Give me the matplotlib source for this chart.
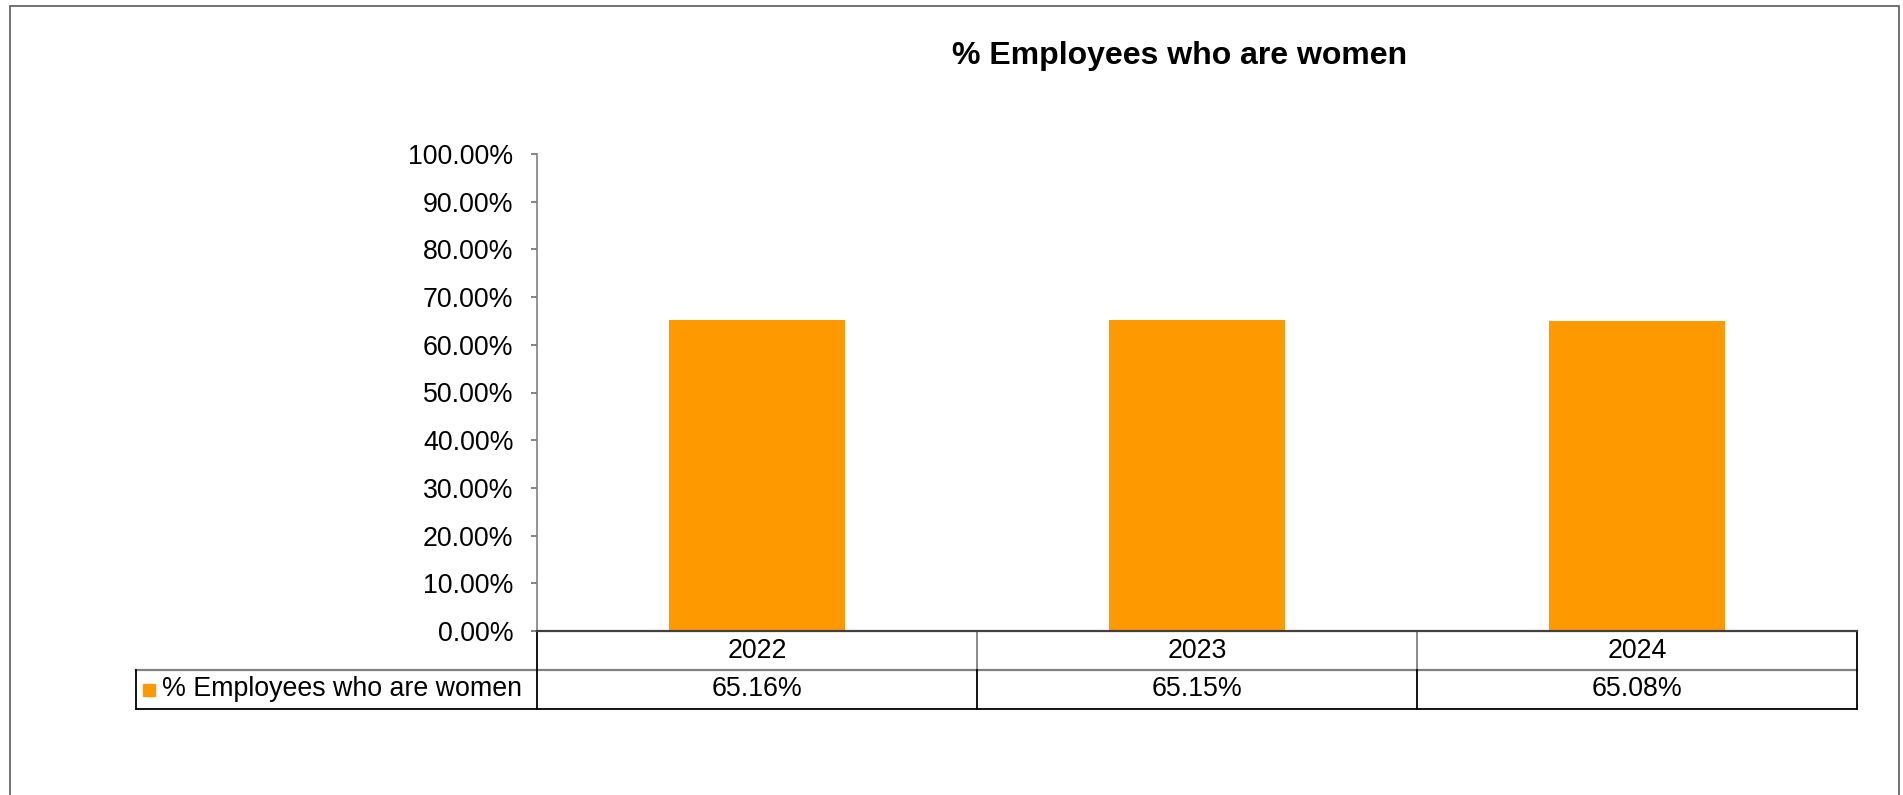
import matplotlib
matplotlib.use("Agg")
import matplotlib.pyplot as plt
from matplotlib.patches import Rectangle
from matplotlib.lines import Line2D

plt.rcParams['font.family'] = ['Liberation Sans', 'DejaVu Sans']

title = "% Employees who are women"
series_name = "% Employees who are women"
years = ["2022", "2023", "2024"]
values = [65.16, 65.15, 65.08]
y_ticks = [0, 10, 20, 30, 40, 50, 60, 70, 80, 90, 100]

FS = 19.3

W, H = 1903, 795
fig = plt.figure(figsize=(W / 100, H / 100), dpi=100)
fig.patch.set_facecolor('white')

# outer chart border
fig.add_artist(Rectangle((9.5 / W, -0.05), (1899 - 9.5) / W, 1.05 - 5.5 / H,
                         transform=fig.transFigure, fill=False,
                         edgecolor='#5a5a5a', linewidth=1.2))

ax_l, ax_r, ax_t, ax_b = 537, 1857, 154, 631
ax = fig.add_axes([ax_l / W, (H - ax_b) / H, (ax_r - ax_l) / W, (ax_b - ax_t) / H])

x = list(range(len(years)))
ax.bar(x, values, width=0.40, color='#FF9900', zorder=2)
ax.set_xlim(-0.5, len(years) - 0.5)
ax.set_ylim(0, 100)
ax.set_yticks(y_ticks)
ax.set_yticklabels([f"{v:.2f}%" for v in y_ticks], fontsize=FS)
ax.tick_params(axis='y', direction='out', length=4, width=1.2, color='#707070', pad=13)
ax.set_xticks([])
for s in ['top', 'right', 'bottom']:
    ax.spines[s].set_visible(False)
ax.spines['left'].set_color('#808080')
ax.spines['left'].set_linewidth(1.2)

ax_h = ax_b - ax_t
ax_w = ax_r - ax_l
row1 = -(670 - ax_b) / ax_h
row2 = -(709 - ax_b) / ax_h
leg_left = (135.7 - ax_l) / ax_w

xt = ax.get_xaxis_transform()
# table top line (0% line)
ax.add_line(Line2D([-0.5, len(years) - 0.5], [0, 0], transform=xt, color='#404040', lw=1.6, clip_on=False, zorder=3))
# separator between header and value row
ax.add_line(Line2D([leg_left, 1], [row1, row1], transform=ax.transAxes, color='#808080', lw=1.6, clip_on=False))
# bottom line
ax.add_line(Line2D([leg_left, 1], [row2, row2], transform=ax.transAxes, color='black', lw=1.3, clip_on=False))
# axis extension down through table
ax.add_line(Line2D([0, 0], [0, row2], transform=ax.transAxes, color='black', lw=1.3, clip_on=False))
# legend cell left edge
ax.add_line(Line2D([leg_left, leg_left], [row1, row2], transform=ax.transAxes, color='black', lw=1.3, clip_on=False))
# right edge
ax.add_line(Line2D([1, 1], [0, row2], transform=ax.transAxes, color='black', lw=1.3, clip_on=False))
# column separators
for i in range(1, len(years)):
    xb = i - 0.5
    ax.add_line(Line2D([xb, xb], [0, row1], transform=xt, color='#808080', lw=1.3, clip_on=False))
    ax.add_line(Line2D([xb, xb], [row1, row2], transform=xt, color='black', lw=1.3, clip_on=False))

for i, (yr, v) in enumerate(zip(years, values)):
    ax.text(i, row1 / 2, yr, transform=xt, ha='center', va='center', fontsize=FS)
    ax.text(i, (row1 + row2) / 2, f"{v:.2f}%", transform=xt, ha='center', va='center', fontsize=FS)

# legend key and row label
ax.plot([(149 - ax_l) / ax_w], [(row1 + row2) / 2], marker='s', markersize=8.5,
        color='#FF9900', transform=ax.transAxes, clip_on=False)
ax.text((162 - ax_l) / ax_w, (row1 + row2) / 2, series_name, transform=ax.transAxes,
        ha='left', va='center', fontsize=FS)

fig.text(1180 / W, 1 - 56 / H, title, ha='center', va='center', fontsize=23, fontweight='bold')

fig.savefig("out.png", dpi=100)
